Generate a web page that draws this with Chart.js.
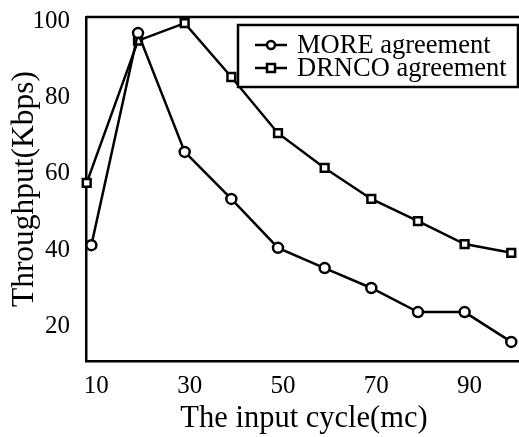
<!DOCTYPE html>
<html>
<head>
<meta charset="utf-8">
<script src="https://cdn.jsdelivr.net/npm/chart.js@4.4.1/dist/chart.umd.min.js"></script>
<style>
html,body{margin:0;padding:0;background:#fff;overflow:hidden;}
#wrap{width:519px;height:437px;position:relative;overflow:hidden;}
</style>
</head>
<body>
<div id="wrap"><canvas id="c" width="530" height="437"></canvas></div>
<script>
const moreX = [10, 20, 30, 40, 50, 60, 70, 80, 90, 100];
const moreY = [40.3, 95.8, 64.7, 52.4, 39.6, 34.3, 29.1, 22.8, 22.8, 15];
const drncoX = [9, 20, 30, 40, 50, 60, 70, 80, 90, 100];
const drncoY = [56.6, 93.8, 98.4, 84.3, 69.6, 60.5, 52.4, 46.6, 40.6, 38.3];
const xTicks = [10, 30, 50, 70, 90];
const yTicks = [20, 40, 60, 80, 100];
const seriesLabels = ['MORE agreement', 'DRNCO agreement'];

const FONT = "'Liberation Serif', 'Times New Roman', serif";

function pts(xs, ys){ return xs.map((x,i)=>({x:x, y:ys[i]})); }

const frame = {
  id: 'frame',
  afterDatasetsDraw(chart){
    const {ctx, chartArea:a} = chart;
    ctx.save();
    ctx.strokeStyle = '#000';
    ctx.lineWidth = 2.5;
    ctx.beginPath();
    ctx.moveTo(a.left, a.top);
    ctx.lineTo(a.right, a.top);
    ctx.stroke();
    ctx.restore();
  },
  afterDraw(chart){
    const ctx = chart.ctx;
    const bx = 238, by = 25, bw = 280, bh = 62;
    ctx.save();
    ctx.fillStyle = '#fff';
    ctx.fillRect(bx, by, bw, bh);
    ctx.strokeStyle = '#000';
    ctx.lineWidth = 2.5;
    ctx.strokeRect(bx, by, bw, bh);
    const rows = [45, 68];
    chart.data.datasets.forEach((ds, i) => {
      const y = rows[i];
      ctx.lineWidth = 2.5;
      ctx.beginPath();
      ctx.moveTo(255, y);
      ctx.lineTo(287, y);
      ctx.stroke();
      ctx.fillStyle = '#fff';
      ctx.beginPath();
      if (ds.pointStyle === 'circle') {
        ctx.arc(271, y, 4, 0, Math.PI*2);
      } else {
        ctx.rect(267, y-4, 8, 8);
      }
      ctx.fill();
      ctx.stroke();
      ctx.fillStyle = '#000';
      ctx.font = '26.5px ' + FONT;
      ctx.textAlign = 'left';
      ctx.textBaseline = 'middle';
      ctx.fillText(ds.label, 297, y + 1);
    });
    ctx.restore();
  }
};

new Chart(document.getElementById('c'), {
  type: 'line',
  data: {
    datasets: [
      {
        label: seriesLabels[0],
        data: pts(moreX, moreY),
        borderColor: '#000',
        borderWidth: 2.5,
        pointStyle: 'circle',
        pointRadius: 5,
        pointBorderWidth: 2.5,
        pointBackgroundColor: '#fff',
        pointBorderColor: '#000',
        tension: 0,
        clip: false
      },
      {
        label: seriesLabels[1],
        data: pts(drncoX, drncoY),
        borderColor: '#000',
        borderWidth: 2.5,
        pointStyle: 'rect',
        pointRadius: 5.5,
        pointBorderWidth: 2.5,
        pointBackgroundColor: '#fff',
        pointBorderColor: '#000',
        tension: 0,
        clip: false
      }
    ]
  },
  options: {
    responsive: false,
    animation: false,
    devicePixelRatio: 1,
    layout: { padding: { left: 0, right: 0, top: 17, bottom: 0 } },
    plugins: { legend: { display: false }, tooltip: { enabled: false } },
    scales: {
      x: {
        type: 'linear',
        min: 8.85,
        max: 102.3,
        afterBuildTicks: (s) => { s.ticks = xTicks.map(v => ({value: v})); },
        afterFit: (s) => { s.height = 76; s.paddingLeft = 0; s.paddingRight = 0; },
        grid: { display: false, drawTicks: false },
        border: { display: true, color: '#000', width: 2.5 },
        ticks: { color: '#000', font: { family: FONT, size: 25 }, padding: 10, labelOffset: 5, maxRotation: 0, autoSkip: false },
        title: { display: true, text: 'The input cycle(mc)', color: '#000', font: { family: FONT, size: 30.5 }, padding: { top: 2, bottom: 0 } }
      },
      y: {
        type: 'linear',
        min: 10,
        max: 100,
        afterBuildTicks: (s) => { s.ticks = yTicks.map(v => ({value: v})); },
        afterFit: (s) => { s.width = 86; s.paddingTop = 0; s.paddingBottom = 0; },
        grid: { display: false, drawTicks: false },
        border: { display: true, color: '#000', width: 2.5 },
        ticks: { color: '#000', font: { family: FONT, size: 25 }, padding: 16, labelOffset: 4 },
        title: { display: true, text: 'Throughput(Kbps)', color: '#000', font: { family: FONT, size: 31.5 }, padding: { top: 6, bottom: 0 } }
      }
    }
  },
  plugins: [frame]
});
</script>
</body>
</html>
